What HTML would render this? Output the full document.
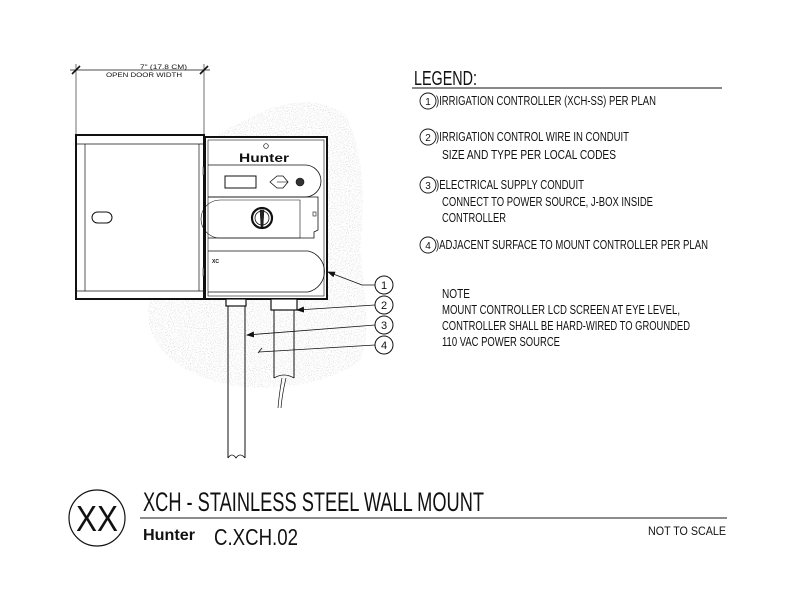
<!DOCTYPE html>
<html><head><meta charset="utf-8"><style>
html,body{margin:0;padding:0;background:#fff;}
svg{display:block;}
text{font-family:"Liberation Sans",sans-serif;fill:#111;}
</style></head><body>
<svg width="792" height="612" viewBox="0 0 792 612" xmlns="http://www.w3.org/2000/svg">
<defs>
<filter id="st" x="0" y="0" width="100%" height="100%">
<feTurbulence type="fractalNoise" baseFrequency="0.95" numOctaves="1" seed="3" result="n"/>
<feColorMatrix in="n" type="matrix" values="0 0 0 0 0.4  0 0 0 0 0.4  0 0 0 0 0.4  0 0 0 -3.5 1.75" result="d"/>
<feComposite in="d" in2="SourceGraphic" operator="in"/>
</filter>
<marker id="ar" markerWidth="8" markerHeight="6" refX="7" refY="3" orient="auto" markerUnits="userSpaceOnUse">
<path d="M0,0 L8,3 L0,6 z" fill="#111"/></marker>
</defs>
<path d="M150,300 C140,340 175,375 230,385 C270,392 330,385 360,360 C372,330 365,290 360,250 C365,200 365,150 345,115 C320,95 280,100 250,118 C225,130 215,135 210,140 L205,300 Z" fill="#000" filter="url(#st)" opacity="0.45"/>
<g fill="none" stroke="#111">
<line x1="70" y1="70" x2="210" y2="70" stroke-width="0.8"/>
<line x1="72" y1="74" x2="80" y2="66" stroke-width="1.6"/>
<line x1="200" y1="74" x2="208" y2="66" stroke-width="1.6"/>
<line x1="76" y1="64" x2="76" y2="135" stroke-width="0.6"/>
<line x1="204" y1="64" x2="204" y2="135" stroke-width="0.6"/>
<rect x="76" y="135" width="128" height="164" fill="#fff" stroke-width="2"/>
<line x1="77" y1="144" x2="203" y2="144" stroke-width="0.7"/>
<line x1="77" y1="291" x2="203" y2="291" stroke-width="0.7"/>
<line x1="85" y1="144" x2="85" y2="291" stroke-width="0.7"/>
<line x1="199" y1="144" x2="199" y2="291" stroke-width="0.7"/>
<rect x="92" y="212" width="20" height="11" rx="5.5" stroke-width="1"/>
<rect x="203" y="167" width="3" height="8" fill="#888" stroke-width="0.5"/>
<rect x="203" y="268" width="3" height="8" fill="#888" stroke-width="0.5"/>
<rect x="205" y="137" width="122" height="162" fill="#fff" stroke-width="2"/>
<rect x="208" y="140" width="116" height="156" stroke-width="0.6"/>
<path d="M208,165 H305 A16,16 0 0 1 305,197 H208" stroke-width="0.8"/>
<path d="M208,197 H318 V230 L314,232 V238 H208" stroke-width="0.8"/>
<path d="M220,200 H300 V238 H220 A19,19 0 0 1 220,200" stroke-width="0.6"/>
<rect x="225" y="176" width="31" height="12" stroke-width="1"/>
<path d="M270,182 L277,176 H283 L288,182 L283,188 H277 Z" stroke-width="0.8"/>
<line x1="277" y1="182" x2="288" y2="182" stroke-width="0.6"/>
<circle cx="300" cy="182" r="4" fill="#333" stroke-width="0.6"/>
<circle cx="262" cy="218" r="10" stroke-width="2.2"/>
<circle cx="262" cy="218" r="7" stroke-width="0.8"/>
<path d="M260,210 L264,210 L263,227 L261,227 Z" fill="#222" stroke-width="0.5"/>
<circle cx="266" cy="146" r="2.3" stroke-width="0.7"/>
<rect x="313" y="212" width="3" height="4" stroke-width="0.6"/>
<path d="M208,251 H308 A21,21 0 0 1 308,292 H208" stroke-width="0.8"/>
<rect x="226" y="299" width="20" height="7" fill="#fff" stroke-width="1.2"/>
<path d="M228,306 V458 M245,306 V458" stroke-width="1"/>
<path d="M228,458 Q232,452 236,458 Q240,452 245,458" stroke-width="0.8"/>
<rect x="271" y="299" width="26" height="11" fill="#fff" stroke-width="1.2"/>
<path d="M274,310 V378 M294,310 V378" stroke-width="1"/>
<path d="M274,378 Q284,372 294,378" stroke-width="0.8"/>
<path d="M282,378 Q279,395 278,408 M286,378 Q282,395 281,408" stroke-width="0.7"/>
<path d="M258,353 L262,348" stroke-width="0.8"/>
<path d="M375,285 H362 L328,272" stroke-width="0.8" marker-end="url(#ar)"/>
<path d="M375,305 L297,310" stroke-width="0.8" marker-end="url(#ar)"/>
<path d="M375,325 L247,335" stroke-width="0.8" marker-end="url(#ar)"/>
<path d="M375,345 L259,352" stroke-width="0.8"/>
<circle cx="384" cy="285" r="9" fill="#fff" stroke-width="1"/>
<circle cx="384" cy="305" r="9" fill="#fff" stroke-width="1"/>
<circle cx="384" cy="325" r="9" fill="#fff" stroke-width="1"/>
<circle cx="384" cy="345" r="9" fill="#fff" stroke-width="1"/>
<line x1="412" y1="88" x2="722" y2="88" stroke-width="1"/>
<circle cx="428" cy="101" r="8" stroke-width="0.9"/>
<circle cx="428" cy="137" r="8" stroke-width="0.9"/>
<circle cx="428" cy="185" r="8" stroke-width="0.9"/>
<circle cx="428" cy="245" r="8" stroke-width="0.9"/>
<circle cx="97" cy="518" r="28" stroke-width="1.2"/>
<line x1="140" y1="518" x2="727" y2="518" stroke-width="1.5" stroke="#666"/>
</g>
<text x="140" y="69" font-size="6" textLength="47" lengthAdjust="spacingAndGlyphs">7" (17.8 CM)</text>
<text x="106" y="77" font-size="6" textLength="76" lengthAdjust="spacingAndGlyphs">OPEN DOOR WIDTH</text>
<text x="239" y="162" font-size="12" font-weight="bold" font-family="Liberation Serif" textLength="50" lengthAdjust="spacingAndGlyphs">Hunter</text>
<text x="212" y="263" font-size="5" font-weight="bold">XC</text>
<g font-size="11" text-anchor="middle">
<text x="384" y="289">1</text><text x="384" y="309">2</text><text x="384" y="329">3</text><text x="384" y="349">4</text>
<text x="428" y="105" font-size="10">1</text><text x="428" y="141" font-size="10">2</text><text x="428" y="189" font-size="10">3</text><text x="428" y="249" font-size="10">4</text>
</g>
<text x="414" y="85" font-size="20" textLength="63" lengthAdjust="spacingAndGlyphs">LEGEND:</text>
<g font-size="13">
<text x="436" y="105" textLength="220" lengthAdjust="spacingAndGlyphs">)IRRIGATION CONTROLLER (XCH-SS) PER PLAN</text>
<text x="436" y="141" textLength="193" lengthAdjust="spacingAndGlyphs">)IRRIGATION CONTROL WIRE IN CONDUIT</text>
<text x="442" y="159" textLength="174" lengthAdjust="spacingAndGlyphs">SIZE AND TYPE PER LOCAL CODES</text>
<text x="436" y="189" textLength="148" lengthAdjust="spacingAndGlyphs">)ELECTRICAL SUPPLY CONDUIT</text>
<text x="442" y="206" textLength="211" lengthAdjust="spacingAndGlyphs">CONNECT TO POWER SOURCE, J-BOX INSIDE</text>
<text x="442" y="222" textLength="64" lengthAdjust="spacingAndGlyphs">CONTROLLER</text>
<text x="436" y="249" textLength="272" lengthAdjust="spacingAndGlyphs">)ADJACENT SURFACE TO MOUNT CONTROLLER PER PLAN</text>
<text x="442" y="298" textLength="28" lengthAdjust="spacingAndGlyphs">NOTE</text>
<text x="442" y="314" textLength="238" lengthAdjust="spacingAndGlyphs">MOUNT CONTROLLER LCD SCREEN AT EYE LEVEL,</text>
<text x="442" y="330" textLength="248" lengthAdjust="spacingAndGlyphs">CONTROLLER SHALL BE HARD-WIRED TO GROUNDED</text>
<text x="442" y="346" textLength="118" lengthAdjust="spacingAndGlyphs">110 VAC POWER SOURCE</text>
</g>
<text x="97" y="531" font-size="36" text-anchor="middle" textLength="42" lengthAdjust="spacingAndGlyphs">XX</text>
<text x="143" y="511" font-size="27" textLength="341" lengthAdjust="spacingAndGlyphs">XCH - STAINLESS STEEL WALL MOUNT</text>
<text x="143" y="540" font-size="16" font-weight="bold" font-family="Liberation Serif" textLength="52" lengthAdjust="spacingAndGlyphs">Hunter</text>
<text x="214" y="545" font-size="23" textLength="84" lengthAdjust="spacingAndGlyphs">C.XCH.02</text>
<text x="648" y="535" font-size="12" textLength="78" lengthAdjust="spacingAndGlyphs">NOT TO SCALE</text>
</svg>
</body></html>
